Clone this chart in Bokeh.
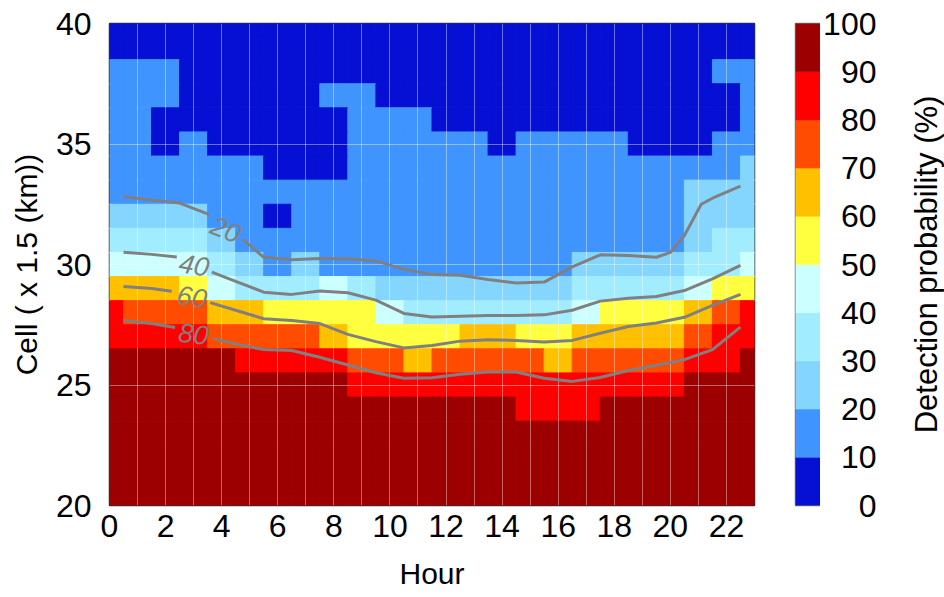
import numpy as np
from bokeh.plotting import figure
from bokeh.layouts import row
from bokeh.models import Range1d, FixedTicker, SingleIntervalTicker, ColumnDataSource
from bokeh.transform import linear_cmap
from bokeh.core.properties import value
from bokeh.embed import file_html
from bokeh.resources import INLINE

# ---------------------------------------------------------------- data
hours = list(range(24))
cells = [40, 39, 38, 37, 36, 35, 34, 33, 32, 31, 30,
         29, 28, 27, 26, 25, 24, 23, 22, 21, 20]

# detection probability (%) per cell (rows follow `cells`, columns follow `hours`)
prob = [
    [5, 5, 5, 5, 5, 5, 5, 5, 5, 5, 5, 5, 5, 5, 5, 5, 5, 5, 5, 5, 5, 5, 5, 5],
    [5, 5, 5, 5, 5, 5, 5, 5, 5, 5, 5, 5, 5, 5, 5, 5, 5, 5, 5, 5, 5, 5, 5, 5],
    [15, 15, 15, 5, 5, 5, 5, 5, 5, 5, 5, 5, 5, 5, 5, 5, 5, 5, 5, 5, 5, 5, 15, 15],
    [15, 15, 15, 5, 5, 5, 5, 5, 15, 15, 5, 5, 5, 5, 5, 5, 5, 5, 5, 5, 5, 5, 5, 15],
    [15, 15, 5, 5, 5, 5, 5, 5, 5, 15, 15, 15, 5, 5, 5, 5, 5, 5, 5, 5, 5, 5, 5, 15],
    [15, 15, 5, 15, 5, 5, 5, 5, 5, 15, 15, 15, 15, 15, 5, 15, 15, 15, 15, 5, 5, 5, 15, 15],
    [15, 15, 15, 15, 15, 15, 5, 5, 5, 15, 15, 15, 15, 15, 15, 15, 15, 15, 15, 15, 15, 15, 15, 25],
    [15, 15, 15, 15, 15, 15, 15, 15, 15, 15, 15, 15, 15, 15, 15, 15, 15, 15, 15, 15, 15, 25, 25, 25],
    [25, 25, 25, 25, 15, 15, 5, 15, 15, 15, 15, 15, 15, 15, 15, 15, 15, 15, 15, 15, 15, 25, 25, 25],
    [35, 35, 35, 35, 25, 15, 15, 15, 15, 15, 15, 15, 15, 15, 15, 15, 15, 15, 15, 15, 15, 25, 35, 35],
    [45, 45, 45, 45, 35, 25, 15, 25, 15, 15, 15, 15, 15, 15, 15, 15, 15, 25, 25, 25, 25, 35, 35, 45],
    [65, 65, 65, 55, 45, 35, 35, 35, 45, 35, 25, 25, 25, 25, 25, 25, 25, 35, 35, 35, 35, 45, 55, 55],
    [85, 75, 75, 75, 65, 65, 55, 55, 55, 55, 45, 35, 35, 35, 35, 35, 35, 45, 55, 55, 55, 65, 75, 85],
    [85, 85, 85, 85, 75, 75, 75, 75, 65, 55, 55, 55, 55, 65, 65, 55, 55, 65, 65, 65, 65, 75, 85, 85],
    [95, 95, 95, 95, 95, 85, 85, 85, 85, 75, 75, 65, 75, 75, 75, 75, 65, 75, 75, 75, 75, 85, 85, 95],
    [95, 95, 95, 95, 95, 95, 95, 95, 95, 85, 85, 85, 85, 85, 85, 85, 85, 85, 85, 85, 85, 95, 95, 95],
    [95, 95, 95, 95, 95, 95, 95, 95, 95, 95, 95, 95, 95, 95, 95, 85, 85, 85, 95, 95, 95, 95, 95, 95],
    [95, 95, 95, 95, 95, 95, 95, 95, 95, 95, 95, 95, 95, 95, 95, 95, 95, 95, 95, 95, 95, 95, 95, 95],
    [95, 95, 95, 95, 95, 95, 95, 95, 95, 95, 95, 95, 95, 95, 95, 95, 95, 95, 95, 95, 95, 95, 95, 95],
    [95, 95, 95, 95, 95, 95, 95, 95, 95, 95, 95, 95, 95, 95, 95, 95, 95, 95, 95, 95, 95, 95, 95, 95],
    [95, 95, 95, 95, 95, 95, 95, 95, 95, 95, 95, 95, 95, 95, 95, 95, 95, 95, 95, 95, 95, 95, 95, 95],
]

palette = ["#0610d4", "#4094fe", "#84d6ff", "#a2ecff", "#ccffff",
           "#ffff40", "#ffc000", "#ff4c00", "#ff0000", "#9c0000"]
level_edges = [0, 10, 20, 30, 40, 50, 60, 70, 80, 90, 100]
cbar_ticks = [0, 10, 20, 30, 40, 50, 60, 70, 80, 90, 100]
x_ticks = [0, 2, 4, 6, 8, 10, 12, 14, 16, 18, 20, 22]
y_ticks = [20, 25, 30, 35, 40]

# contour lines of the smoothed probability field
half_hours = [0.5, 1.5, 2.5, 3.5, 4.5, 5.5, 6.5, 7.5, 8.5, 9.5, 10.5, 11.5,
              12.5, 13.5, 14.5, 15.5, 16.5, 17.5, 18.5, 19.5, 20.5, 21.5, 22.5]
c20_x = [0.5, 1.5, 2.5, 3.5, 4.5, 5.5, 6.5, 7.5, 8.5, 9.5, 10.5, 11.5, 12.5,
         13.5, 14.5, 15.5, 16.5, 17.5, 18.5, 19.5, 20.0, 20.5, 21.1, 21.5, 22.5]
c20_y = [32.82, 32.68, 32.55, 32.1, 31.3, 30.3, 30.2, 30.25, 30.24, 30.15, 29.8, 29.58, 29.55,
         29.38, 29.23, 29.27, 29.9, 30.4, 30.37, 30.3, 30.5, 31.2, 32.5, 32.75, 33.25]
c40_y = [30.51, 30.42, 30.3, 29.75, 29.3, 28.85, 28.76, 28.9, 28.83, 28.52, 27.97, 27.82,
         27.85, 27.88, 27.88, 27.91, 28.1, 28.48, 28.6, 28.67, 28.92, 29.4, 29.96]
c60_y = [29.09, 29.0, 28.85, 28.45, 28.1, 27.75, 27.68, 27.55, 27.1, 26.8, 26.54, 26.64,
         26.82, 26.88, 26.85, 26.78, 26.85, 27.15, 27.43, 27.57, 27.81, 28.3, 28.76]
c80_y = [27.68, 27.55, 27.35, 26.98, 26.7, 26.47, 26.43, 26.15, 25.83, 25.51, 25.28, 25.3,
         25.45, 25.54, 25.54, 25.28, 25.15, 25.31, 25.6, 25.82, 26.05, 26.47, 27.4]
contour_labels = ["20", "40", "60", "80"]

# ---------------------------------------------------------------- layout
W, H = 944, 597
LEFT, TOP, BOTTOM = 109, 23, 92
MAIN_W = 785          # heat map panel
BAR_W = 35            # colour bar strip (10 px gap + 25 px bar)
LAB_W = 85            # colour bar scale labels
FRAME_R = 754
FONT = "Liberation Sans"

# label placement along each contour: centre, rotation, and the gap cut into the line
label_style = {
    "20": dict(x=4.15, y=31.45, angle=-22, gap=(3.55, 4.75)),
    "40": dict(x=3.02, y=29.98, angle=-10, gap=(2.40, 3.65)),
    "60": dict(x=2.94, y=28.66, angle=-9, gap=(2.22, 3.59)),
    "80": dict(x=3.00, y=27.12, angle=-7, gap=(2.34, 3.70)),
}


def with_gap(xs, ys, gap):
    """Break a polyline between gap[0] and gap[1] so a label can sit there."""
    xs = np.asarray(xs, float)
    ys = np.asarray(ys, float)
    g0, g1 = gap
    y0, y1 = np.interp(g0, xs, ys), np.interp(g1, xs, ys)
    left = xs < g0
    right = xs > g1
    out_x = list(xs[left]) + [g0, np.nan, g1] + list(xs[right])
    out_y = list(ys[left]) + [y0, np.nan, y1] + list(ys[right])
    return out_x, out_y


def style_axis(ax, tick_size="32px", label_size="30px"):
    ax.axis_line_color = None
    ax.major_tick_line_color = None
    ax.minor_tick_line_color = None
    ax.major_label_text_font = FONT
    ax.major_label_text_font_size = tick_size
    ax.major_label_text_color = "black"
    ax.axis_label_text_font = FONT
    ax.axis_label_text_font_size = label_size
    ax.axis_label_text_font_style = "normal"
    ax.axis_label_text_color = "black"


def blank_panel(width, border_left, border_right, y_axis=None):
    f = figure(width=width, height=H, output_backend="svg", toolbar_location=None,
               x_range=Range1d(0, 1), y_range=Range1d(0, 100),
               x_axis_location=None, y_axis_location=y_axis,
               min_border_left=border_left, min_border_right=border_right,
               min_border_top=TOP, min_border_bottom=BOTTOM)
    f.outline_line_color = None
    f.background_fill_color = "white"
    f.border_fill_color = "white"
    f.xgrid.visible = False
    f.ygrid.visible = False
    return f


# ---------------------------------------------------------------- main panel
p = figure(width=MAIN_W, height=H, output_backend="svg", toolbar_location=None,
           x_range=Range1d(0, 23), y_range=Range1d(20, 40),
           min_border_left=LEFT, min_border_right=MAIN_W - FRAME_R,
           min_border_top=TOP, min_border_bottom=BOTTOM)
p.background_fill_color = "white"
p.border_fill_color = "white"
p.outline_line_color = "#333333"
p.outline_line_width = 1.5

cx, cy, cv = [], [], []
for c, vals in zip(cells, prob):
    for h, v in zip(hours, vals):
        cx.append(h)
        cy.append(c)
        cv.append(v)
src = ColumnDataSource(dict(hour=cx, cell=cy, prob=cv))
cmap = linear_cmap("prob", palette, low=0, high=100)
cells_r = p.rect(x="hour", y="cell", width=1, height=1, source=src,
                 fill_color=cmap, line_color=cmap, line_width=1)
cells_r.level = "image"

# thin white guide lines over the cells
p.xgrid.ticker = SingleIntervalTicker(interval=1)
p.ygrid.ticker = FixedTicker(ticks=[25, 30, 35])
for g in (p.xgrid, p.ygrid):
    g.grid_line_color = "white"
    g.grid_line_alpha = 0.4
    g.grid_line_width = 1

contour_y = {"20": c20_y, "40": c40_y, "60": c60_y, "80": c80_y}
contour_x = {"20": c20_x, "40": half_hours, "60": half_hours, "80": half_hours}
for lab_name in contour_labels:
    st = label_style[lab_name]
    lx, ly = with_gap(contour_x[lab_name], contour_y[lab_name], st["gap"])
    p.line(lx, ly, line_color="#808080", line_width=3)

lab_src = ColumnDataSource(dict(
    x=[label_style[k]["x"] for k in contour_labels],
    y=[label_style[k]["y"] for k in contour_labels],
    a=[label_style[k]["angle"] for k in contour_labels],
    t=contour_labels))
p.text(x="x", y="y", text="t", angle="a", angle_units="deg", source=lab_src,
       text_align="center", text_baseline="middle", text_color="#808080",
       text_font=value(FONT), text_font_style="italic", text_font_size="27px")

p.xaxis.ticker = FixedTicker(ticks=x_ticks)
p.yaxis.ticker = FixedTicker(ticks=y_ticks)
p.xaxis.axis_label = "Hour"
p.yaxis.axis_label = "Cell ( x 1.5 (km))"
style_axis(p.xaxis[0])
style_axis(p.yaxis[0])
p.xaxis.major_label_standoff = 3
p.xaxis.axis_label_standoff = 17
p.yaxis.major_label_standoff = 12
p.yaxis.axis_label_standoff = 10

# ---------------------------------------------------------------- colour bar
bar = blank_panel(BAR_W, BAR_W - 25, 0)
bar.outline_line_color = "#777777"
bar.outline_line_width = 1.5
bar.quad(left=0, right=1, bottom=level_edges[:-1], top=level_edges[1:],
         fill_color=palette, line_color=palette, line_width=0.5)

# scale labels, right aligned against a narrow empty frame
lab = blank_panel(LAB_W, 64, 0, y_axis="left")
lab.yaxis.ticker = FixedTicker(ticks=cbar_ticks)
style_axis(lab.yaxis[0])
lab.yaxis.major_label_standoff = 2
lab.scatter([0.5], [50], size=0, alpha=0)

# colour bar title, read bottom-to-top
TITLE_W = W - MAIN_W - BAR_W - LAB_W
ttl = blank_panel(TITLE_W, TITLE_W - 2, 0, y_axis="left")
ttl.yaxis.ticker = FixedTicker(ticks=[])
ttl.yaxis.axis_label = "Detection probability (%)"
style_axis(ttl.yaxis[0], label_size="31px")
ttl.yaxis.axis_label_standoff = 0
ttl.scatter([0.5], [50], size=0, alpha=0)

layout = row(p, bar, lab, ttl, spacing=0)
open("out.html", "w").write(file_html(layout, INLINE))
